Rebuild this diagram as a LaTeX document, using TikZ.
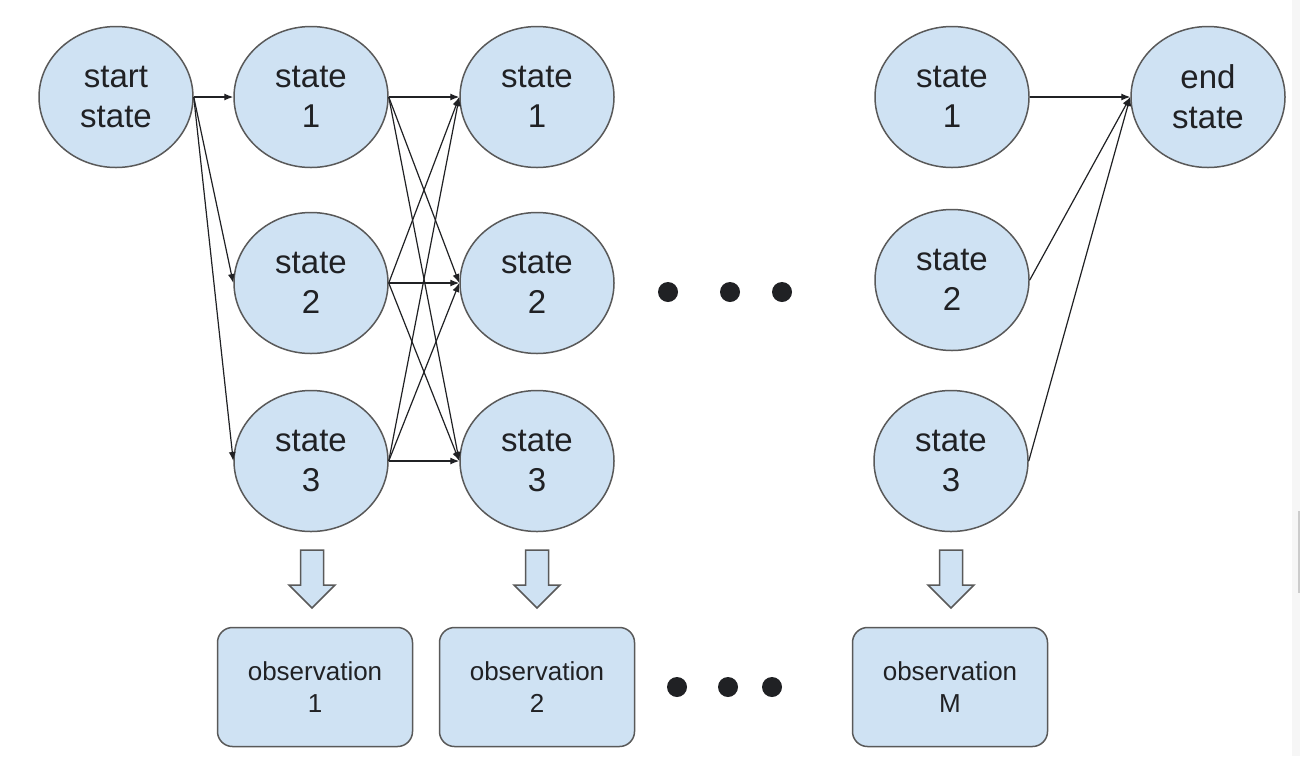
\documentclass[tikz,border=0pt]{standalone}
\usepackage{fontspec}
\setmainfont{Liberation Sans}
\usetikzlibrary{arrows.meta,shapes.geometric}
\definecolor{fillblue}{HTML}{CFE2F3}
\definecolor{edgegray}{HTML}{595959}
\definecolor{ink}{HTML}{202124}
\begin{document}
\begin{tikzpicture}[x=1pt,y=-1pt,
  st/.style={ellipse,draw=edgegray,line width=1.5pt,fill=fillblue,minimum width=154pt,minimum height=141pt,inner sep=0pt,align=center,font=\fontsize{33}{40}\selectfont,text=ink},
  obs/.style={rectangle,rounded corners=15pt,draw=edgegray,line width=1.5pt,fill=fillblue,minimum width=195pt,minimum height=119pt,inner sep=0pt,align=center,font=\fontsize{26}{32}\selectfont,text=ink},
  conn/.style={draw=ink,line width=1.2pt,-{Latex[length=9pt,width=7pt]}},
  dotnode/.style={circle,fill=ink,minimum size=20pt,inner sep=0pt},
  blk/.style={draw=edgegray,line width=1.5pt,fill=fillblue,line join=miter}
]
\useasboundingbox (0,0) rectangle (1300,756);
\fill[white] (0,0) rectangle (1300,756);
% faint right-edge artifact
\fill[gray!7] (1292,0) rectangle (1300,756);
\draw[gray!40,line width=1.5pt] (1299,511) -- (1299,593);

% states
\node[st] (start) at (116,97) {start\\state};
\node[st] (a1) at (311,97) {state\\1};
\node[st] (a2) at (311,283) {state\\2};
\node[st] (a3) at (311,461) {state\\3};
\node[st] (b1) at (537,97) {state\\1};
\node[st] (b2) at (537,283) {state\\2};
\node[st] (b3) at (537,461) {state\\3};
\node[st] (c1) at (952,97) {state\\1};
\node[st] (c2) at (952,280) {state\\2};
\node[st] (c3) at (951,461) {state\\3};
\node[st] (end) at (1208,97) {end\\state};

% observations
\node[obs] (o1) at (315,687) {observation\\1};
\node[obs] (o2) at (537,687) {observation\\2};
\node[obs] (oM) at (950,687) {observation\\M};

% ellipsis dots
\node[dotnode] (d1) at (668,292) {};
\node[dotnode] (d2) at (730,292) {};
\node[dotnode] (d3) at (782,292) {};
\node[dotnode] (e1) at (677,687) {};
\node[dotnode] (e2) at (728,687) {};
\node[dotnode] (e3) at (772,687) {};

% block arrows
\foreach \x in {312,537,951}
  \draw[blk] (\x-11.5,550) -- (\x+11.5,550) -- (\x+11.5,585) -- (\x+23,585) -- (\x,608) -- (\x-23,585) -- (\x-11.5,585) -- cycle;

% connectors
\foreach \t in {a1,a2,a3} \draw[conn] (start.east) -- (\t.west);
\foreach \s in {a1,a2,a3} \foreach \t in {b1,b2,b3} \draw[conn] (\s.east) -- (\t.west);
\foreach \s in {c1,c2,c3} \draw[conn] (\s.east) -- (end.west);
\end{tikzpicture}
\end{document}
